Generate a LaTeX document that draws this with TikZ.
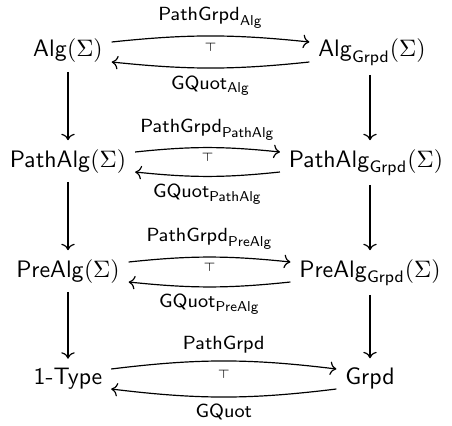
\documentclass[tikz,border=0pt]{standalone}
\usepackage{amsmath}
\usepackage{tikz}
\usetikzlibrary{arrows.meta,bending}

\begin{document}
\begin{tikzpicture}[
    x=0.42pt, y=0.42pt,
    every path/.style={line width=0.5pt},
    obj/.style={anchor=base, inner xsep=3.5pt, inner ysep=3.5pt},
    lab/.style={font=\footnotesize, inner sep=1pt},
    adj/.style={font=\tiny, inner sep=0pt}
]
    \useasboundingbox (0,0) rectangle (452,-426);

    \node[obj] (alg) at (68,-57) {$\mathsf{Alg}(\Sigma)$};
    \node[obj] (algG) at (372,-57) {$\mathsf{Alg}_{\mathsf{Grpd}}(\Sigma)$};
    \node[obj] (palg) at (68,-167) {$\mathsf{PathAlg}(\Sigma)$};
    \node[obj] (palgG) at (366,-167) {$\mathsf{PathAlg}_{\mathsf{Grpd}}(\Sigma)$};
    \node[obj] (prealg) at (68,-277) {$\mathsf{PreAlg}(\Sigma)$};
    \node[obj] (prealgG) at (370,-277) {$\mathsf{PreAlg}_{\mathsf{Grpd}}(\Sigma)$};
    \node[obj] (type) at (68,-384) {\textsf{1-Type}};
    \node[obj] (grpd) at (370,-384) {\textsf{Grpd}};

    \draw[->] (alg) -- (palg);
    \draw[->] (palg) -- (prealg);
    \draw[->] (prealg) -- (type);
    \draw[->] (algG.south -| grpd) -- (palgG.north -| grpd);
    \draw[->] (palgG.south -| grpd) -- (prealgG.north -| grpd);
    \draw[->] (prealgG.south -| grpd) -- (grpd);

    \draw[->] ([yshift=6.3pt]alg.base east)
        to [bend left=6] node[lab,above=2pt] (pg1) {$\mathsf{PathGrpd}_{\mathsf{Alg}}$}
        ([yshift=6.3pt]algG.base west);
    \draw[->] ([yshift=-2.1pt]algG.base west)
        to [bend left=6] node[lab,below=2pt] (gq1) {$\mathsf{GQuot}_{\mathsf{Alg}}$}
        ([yshift=-2.1pt]alg.base east);
    \path ([yshift=4.2pt]alg.base east) -- node[adj] (t1) {$\top$} ([yshift=4.2pt]algG.base west);

    \draw[->] ([yshift=6.3pt]palg.base east)
        to [bend left=6] node[lab,above=2pt] (pg2) {$\mathsf{PathGrpd}_{\mathsf{PathAlg}}$}
        ([yshift=6.3pt]palgG.base west);
    \draw[->] ([yshift=-2.1pt]palgG.base west)
        to [bend left=6] node[lab,below=2pt] (gq2) {$\mathsf{GQuot}_{\mathsf{PathAlg}}$}
        ([yshift=-2.1pt]palg.base east);
    \path ([yshift=4.2pt]palg.base east) -- node[adj] (t2) {$\top$} ([yshift=4.2pt]palgG.base west);

    \draw[->] ([yshift=6.3pt]prealg.base east)
        to [bend left=6] node[lab,above=2pt] (pg3) {$\mathsf{PathGrpd}_{\mathsf{PreAlg}}$}
        ([yshift=6.3pt]prealgG.base west);
    \draw[->] ([yshift=-2.1pt]prealgG.base west)
        to [bend left=6] node[lab,below=2pt] (gq3) {$\mathsf{GQuot}_{\mathsf{PreAlg}}$}
        ([yshift=-2.1pt]prealg.base east);
    \path ([yshift=4.2pt]prealg.base east) -- node[adj] (t3) {$\top$} ([yshift=4.2pt]prealgG.base west);

    \draw[->] ([yshift=6.3pt]type.base east)
        to [bend left=7] node[lab,above=2pt] (pg4) {$\mathsf{PathGrpd}$}
        ([yshift=6.3pt]grpd.base west);
    \draw[->] ([yshift=-2.1pt]grpd.base west)
        to [bend left=7] node[lab,below=2pt] (gq4) {$\mathsf{GQuot}$}
        ([yshift=-2.1pt]type.base east);
    \path ([yshift=4.2pt]type.base east) -- node[adj] (t4) {$\top$} ([yshift=4.2pt]grpd.base west);
\end{tikzpicture}
\end{document}
